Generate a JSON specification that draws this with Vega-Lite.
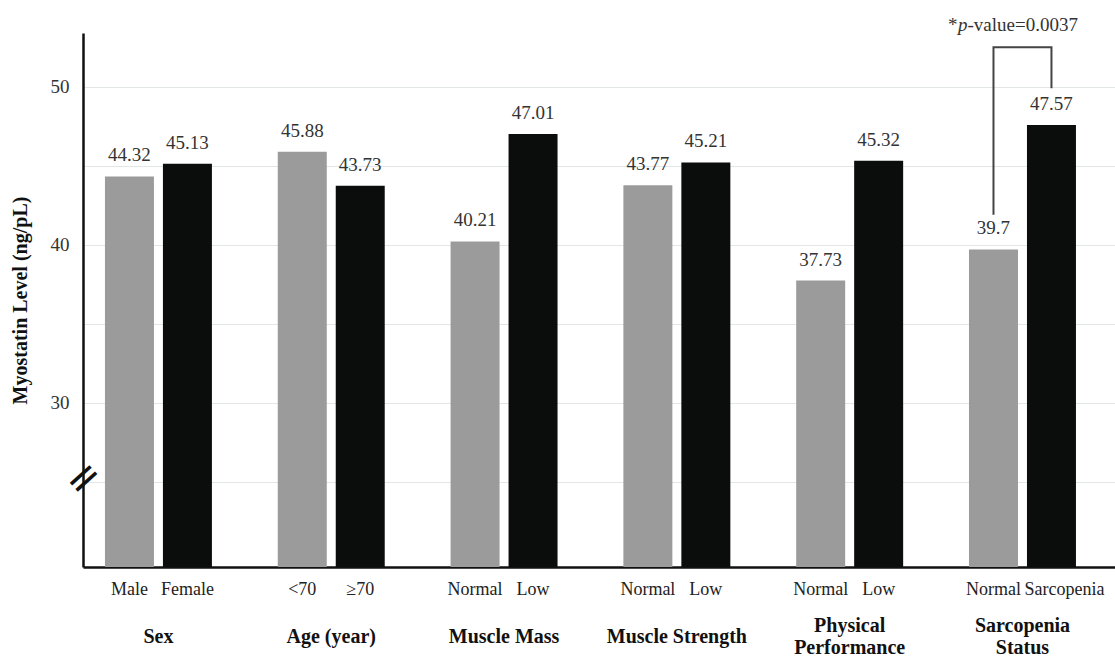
{
  "$schema": "https://vega.github.io/schema/vega-lite/v6.json",
  "width": 1032,
  "height": 534,
  "autosize": {"type": "none"},
  "padding": {"left": 83, "top": 33, "right": 0, "bottom": 94},
  "background": "white",
  "config": {"view": {"stroke": null}, "font": "Times New Roman, Liberation Serif, serif"},
  "datasets": {
    "bars": [
      {"group": "Sex", "order": "1", "label": "Male", "value": 44.32},
      {"group": "Sex", "order": "2", "label": "Female", "value": 45.13},
      {"group": "Age (year)", "order": "1", "label": "<70", "value": 45.88},
      {"group": "Age (year)", "order": "2", "label": "≥70", "value": 43.73},
      {"group": "Muscle Mass", "order": "1", "label": "Normal", "value": 40.21},
      {"group": "Muscle Mass", "order": "2", "label": "Low", "value": 47.01},
      {"group": "Muscle Strength", "order": "1", "label": "Normal", "value": 43.77},
      {"group": "Muscle Strength", "order": "2", "label": "Low", "value": 45.21},
      {"group": "Physical Performance", "order": "1", "label": "Normal", "value": 37.73},
      {"group": "Physical Performance", "order": "2", "label": "Low", "value": 45.32},
      {"group": "Sarcopenia Status", "order": "1", "label": "Normal", "value": 39.7},
      {"group": "Sarcopenia Status", "order": "2", "label": "Sarcopenia", "value": 47.57}
    ],
    "bracket": [
      {"group": "Sarcopenia Status", "order": "1", "value": 41.9, "step": 1},
      {"group": "Sarcopenia Status", "order": "1", "value": 52.5, "step": 2},
      {"group": "Sarcopenia Status", "order": "2", "value": 52.5, "step": 3},
      {"group": "Sarcopenia Status", "order": "2", "value": 49.9, "step": 4}
    ],
    "note": [
      {"group": "Sarcopenia Status", "order": "1"}
    ],
    "axisbreak": [
      {"group": "Sex", "order": "1", "value": 25}
    ]
  },
  "encoding": {
    "x": {
      "field": "group",
      "type": "nominal",
      "scale": {
        "domain": ["Sex", "Age (year)", "Muscle Mass", "Muscle Strength", "Physical Performance", "Sarcopenia Status"],
        "paddingInner": 0.381,
        "paddingOuter": 0.1765,
        "align": 0.36
      },
      "axis": {
        "title": null,
        "labelExpr": "(datum.label == 'Physical Performance' || datum.label == 'Sarcopenia Status') ? split(datum.label, ' ') : datum.label",
        "labelFont": "Times New Roman, Liberation Serif, serif",
        "labelFontWeight": "bold",
        "labelFontSize": 20,
        "labelColor": "#111",
        "labelPadding": {"condition": {"test": "datum.value == 'Physical Performance' || datum.value == 'Sarcopenia Status'", "value": 58}, "value": 69},
        "labelBaseline": "middle",
        "labelLineHeight": 22,
        "labelAngle": 0,
        "ticks": false,
        "tickSize": 0,
        "domainColor": "#111",
        "domainWidth": 2.5,
        "grid": false
      }
    },
    "xOffset": {
      "field": "order",
      "type": "nominal",
      "scale": {"domain": ["1", "2"], "paddingInner": 0.155, "paddingOuter": 0}
    }
  },
  "layer": [
    {
      "data": {"name": "bars"},
      "mark": {"type": "bar"},
      "encoding": {
        "y": {
          "field": "value",
          "type": "quantitative",
          "scale": {"domain": [19.6, 53.4], "nice": false, "zero": false},
          "axis": {
            "title": "Myostatin Level (ng/pL)",
            "titleFont": "Times New Roman, Liberation Serif, serif",
            "titleFontSize": 20,
            "titleFontWeight": "bold",
            "titleColor": "#111",
            "titlePadding": 20,
            "values": [25, 30, 35, 40, 45, 50],
            "labelExpr": "datum.value % 10 == 0 ? datum.label : ''",
            "labelFont": "Times New Roman, Liberation Serif, serif",
            "labelFontSize": 19,
            "labelPadding": 14,
            "labelColor": "#333",
            "ticks": false,
            "tickSize": 0,
            "domainColor": "#111",
            "domainWidth": 2.5,
            "gridColor": "#e2e6e6",
            "gridWidth": 1.2
          }
        },
        "y2": {"datum": 19.6},
        "color": {
          "field": "order",
          "type": "nominal",
          "scale": {"domain": ["1", "2"], "range": ["#9b9b9b", "#0b0d0c"]},
          "legend": null
        }
      }
    },
    {
      "data": {"name": "bars"},
      "mark": {"type": "text", "baseline": "alphabetic", "dy": -15, "fontSize": 19, "color": "#333"},
      "encoding": {
        "y": {"field": "value", "type": "quantitative"},
        "text": {"field": "value", "type": "nominal"}
      }
    },
    {
      "data": {"name": "bars"},
      "transform": [{"filter": "datum.label != 'Sarcopenia'"}],
      "mark": {"type": "text", "baseline": "middle", "fontSize": 18, "color": "#222"},
      "encoding": {
        "y": {"datum": 18.16},
        "text": {"field": "label", "type": "nominal"}
      }
    },
    {
      "data": {"name": "bars"},
      "transform": [{"filter": "datum.label == 'Sarcopenia'"}],
      "mark": {"type": "text", "baseline": "middle", "align": "left", "dx": -27, "fontSize": 18, "color": "#222"},
      "encoding": {
        "y": {"datum": 18.16},
        "text": {"field": "label", "type": "nominal"}
      }
    },
    {
      "data": {"name": "bracket"},
      "mark": {"type": "line", "color": "#444", "strokeWidth": 2},
      "encoding": {
        "y": {"field": "value", "type": "quantitative"},
        "order": {"field": "step", "type": "quantitative"}
      }
    },
    {
      "data": {"name": "axisbreak"},
      "mark": {"type": "text", "text": "=", "angle": -42, "dx": -32, "dy": -33, "baseline": "middle", "align": "center", "fontSize": 42, "color": "#111", "font": "DejaVu Sans"},
      "encoding": {"y": {"field": "value", "type": "quantitative"}}
    },
    {
      "data": {"name": "note"},
      "mark": {"type": "text", "text": "-value=0.0037", "align": "left", "dx": -26, "baseline": "middle", "fontSize": 19, "color": "#333"},
      "encoding": {"y": {"datum": 53.9}}
    },
    {
      "data": {"name": "note"},
      "mark": {"type": "text", "text": "p", "align": "right", "dx": -26, "baseline": "middle", "fontSize": 19, "fontStyle": "italic", "color": "#333"},
      "encoding": {"y": {"datum": 53.9}}
    },
    {
      "data": {"name": "note"},
      "mark": {"type": "text", "text": "*", "align": "right", "dx": -36, "baseline": "middle", "fontSize": 19, "color": "#333"},
      "encoding": {"y": {"datum": 53.9}}
    }
  ]
}
